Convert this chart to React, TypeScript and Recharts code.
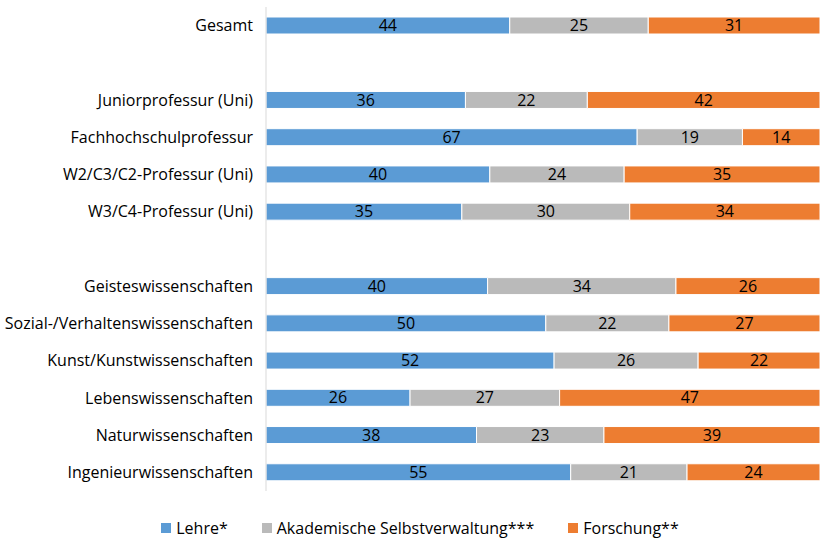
import React from "react";
import { BarChart, Bar, XAxis, YAxis, Legend, LabelList } from "recharts";

const categories = [
  "Gesamt",
  "",
  "Juniorprofessur (Uni)",
  "Fachhochschulprofessur",
  "W2/C3/C2-Professur (Uni)",
  "W3/C4-Professur (Uni)",
  " ",
  "Geisteswissenschaften",
  "Sozial-/Verhaltenswissenschaften",
  "Kunst/Kunstwissenschaften",
  "Lebenswissenschaften",
  "Naturwissenschaften",
  "Ingenieurwissenschaften",
];
const lehre: (number | null)[] = [44, null, 36, 67, 40, 35, null, 40, 50, 52, 26, 38, 55];
const selbst: (number | null)[] = [25, null, 22, 19, 24, 30, null, 34, 22, 26, 27, 23, 21];
const forschung: (number | null)[] = [31, null, 42, 14, 35, 34, null, 26, 27, 22, 47, 39, 24];

const seriesNames = ["Lehre*", "Akademische Selbstverwaltung***", "Forschung**"];
const colors = ["#5B9BD5", "#BABABA", "#ED7D31"];

const data = categories.map((name, i) => ({
  name,
  lehre: lehre[i],
  selbst: selbst[i],
  forschung: forschung[i],
}));

const FONT = "'Open Sans', sans-serif";
const FS = 16;

const LegendContent = () => (
  <div
    style={{
      display: "flex",
      justifyContent: "center",
      gap: 34,
      fontFamily: FONT,
      fontSize: FS,
      color: "#000",
      paddingLeft: 19,
      lineHeight: "20px",
    }}
  >
    {seriesNames.map((n, i) => (
      <div key={n} style={{ display: "flex", alignItems: "center" }}>
        <span
          style={{
            display: "inline-block",
            width: 10,
            height: 10,
            background: colors[i],
            marginRight: 5,
          }}
        />
        <span>{n}</span>
      </div>
    ))}
  </div>
);

export default function App() {
  return (
    <div style={{ position: "absolute", top: 0, left: 0, width: 821, height: 540, background: "#fff", overflow: "hidden" }}>
      <BarChart
        width={821}
        height={540}
        data={data}
        layout="vertical"
        stackOffset="expand"
        margin={{ top: 7, right: 1, left: 0, bottom: 49 }}
      >
        <XAxis type="number" hide domain={[0, 1]} />
        <YAxis
          type="category"
          dataKey="name"
          width={266}
          axisLine={{ stroke: "#D9D9D9" }}
          tickLine={false}
          tickSize={0}
          tickMargin={13}
          interval={0}
          tick={{ fill: "#000", fontSize: FS, fontFamily: FONT }}
        />
        <Legend
          verticalAlign="middle"
          align="center"
          content={<LegendContent />}
          wrapperStyle={{ top: 518, left: 0, width: 821 }}
        />
        {(["lehre", "selbst", "forschung"] as const).map((k, i) => (
          <Bar
            key={k}
            dataKey={k}
            name={seriesNames[i]}
            stackId="a"
            fill={colors[i]}
            stroke="#fff"
            strokeWidth={1}
            barSize={17}
            isAnimationActive={false}
          >
            <LabelList
              dataKey={k}
              position="center"
              fill="#000"
              fontSize={FS}
              fontFamily={FONT}
            />
          </Bar>
        ))}
      </BarChart>
    </div>
  );
}
